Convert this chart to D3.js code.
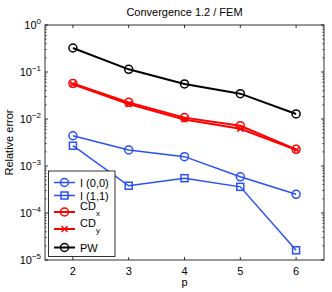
<!DOCTYPE html>
<html>
<head>
<meta charset="utf-8">
<script src="https://cdn.jsdelivr.net/npm/d3@7"></script>
<style>
  body { margin: 0; background: #fff; }
  svg { font-family: "Liberation Sans", Arial, sans-serif; }
</style>
</head>
<body>
<div id="chart"></div>
<script>
// values
var ps = [2, 3, 4, 5, 6];
var i00 = [0.0044, 0.0022, 0.00158, 0.00059, 0.00025];
var i11 = [0.0027, 0.00038, 0.00055, 0.00036, 0.0000161];
var cdx = [0.057, 0.0226, 0.0107, 0.0072, 0.00226];
var cdy = [0.055, 0.0209, 0.0098, 0.0062, 0.0022];
var pw = [0.324, 0.114, 0.0556, 0.0346, 0.0128];
var xTicks = [2, 3, 4, 5, 6];
var yTicks = [-5, -4, -3, -2, -1, 0];

var blue = "#2850f5", red = "#ff0000", black = "#000000";
var series = [
  { name: "I (0,0)", vals: i00, color: blue, w: 1.5, marker: "circle" },
  { name: "I (1,1)", vals: i11, color: blue, w: 1.5, marker: "square" },
  { name: "CD", sub: "x", vals: cdx, color: red, w: 2, marker: "circle" },
  { name: "CD", sub: "y", vals: cdy, color: red, w: 2, marker: "star" },
  { name: "PW", vals: pw, color: black, w: 2, marker: "circle" }
];

const width = 332, height = 292;
const m = { left: 45, right: 324, top: 25, bottom: 260 };

const svg = d3.select('#chart').append('svg')
  .attr('width', width).attr('height', height);

const x = d3.scaleLinear().domain([1.5, 6.5]).range([m.left, m.right]);
const y = d3.scaleLog().domain([1e-5, 1]).range([m.bottom, m.top]);

// box
svg.append('rect')
  .attr('x', m.left).attr('y', m.top)
  .attr('width', m.right - m.left).attr('height', m.bottom - m.top)
  .attr('fill', 'none').attr('stroke', '#000').attr('stroke-width', 0.8);

// x ticks (inside, top and bottom)
xTicks.forEach(function (t) {
  svg.append('line').attr('x1', x(t)).attr('x2', x(t))
    .attr('y1', m.bottom).attr('y2', m.bottom - 3).attr('stroke', '#000').attr('stroke-width', 0.8);
  svg.append('line').attr('x1', x(t)).attr('x2', x(t))
    .attr('y1', m.top).attr('y2', m.top + 3).attr('stroke', '#000').attr('stroke-width', 0.8);
  svg.append('text').attr('x', x(t)).attr('y', m.bottom + 15)
    .attr('text-anchor', 'middle').attr('font-size', 11).text(t);
});

// y ticks, major and minor
yTicks.forEach(function (e) {
  var v = Math.pow(10, e);
  [m.left, m.right].forEach(function (xx, k) {
    var d = k === 0 ? 3 : -3;
    svg.append('line').attr('x1', xx).attr('x2', xx + d)
      .attr('y1', y(v)).attr('y2', y(v)).attr('stroke', '#000').attr('stroke-width', 0.8);
  });
  var lab = svg.append('text').attr('x', m.left - 4).attr('y', y(v) + 4)
    .attr('text-anchor', 'end').attr('font-size', 11);
  lab.append('tspan').text('10');
  lab.append('tspan').attr('dy', -5).attr('font-size', 8).text(e === 0 ? '0' : '\u2212' + (-e));
  if (e < 0) {
    for (var k = 2; k <= 9; k++) {
      var mv = k * v;
      [m.left, m.right].forEach(function (xx, j) {
        var d = j === 0 ? 1.6 : -1.6;
        svg.append('line').attr('x1', xx).attr('x2', xx + d)
          .attr('y1', y(mv)).attr('y2', y(mv)).attr('stroke', '#000').attr('stroke-width', 0.7);
      });
    }
  }
});

// title and axis labels
svg.append('text').attr('x', (m.left + m.right) / 2).attr('y', 16)
  .attr('text-anchor', 'middle').attr('font-size', 11).text('Convergence 1.2 / FEM');
svg.append('text').attr('x', (m.left + m.right) / 2).attr('y', 286)
  .attr('text-anchor', 'middle').attr('font-size', 11).text('p');
svg.append('text').attr('transform', 'translate(13,' + ((m.top + m.bottom) / 2) + ') rotate(-90)')
  .attr('text-anchor', 'middle').attr('font-size', 11).text('Relative error');

function drawMarker(g, kind, cx, cy, color) {
  if (kind === 'circle') {
    g.append('circle').attr('cx', cx).attr('cy', cy).attr('r', 4)
      .attr('fill', 'none').attr('stroke', color).attr('stroke-width', 1.5);
  } else if (kind === 'square') {
    g.append('rect').attr('x', cx - 3.5).attr('y', cy - 3.5).attr('width', 7).attr('height', 7)
      .attr('fill', 'none').attr('stroke', color).attr('stroke-width', 1.5);
  } else {
    var r = 3;
    g.append('path')
      .attr('d', 'M' + (cx - r) + ',' + (cy - r) + 'L' + (cx + r) + ',' + (cy + r) +
        'M' + (cx - r) + ',' + (cy + r) + 'L' + (cx + r) + ',' + (cy - r) +
        'M' + (cx - r) + ',' + cy + 'L' + (cx + r) + ',' + cy)
      .attr('stroke', color).attr('stroke-width', 1.3);
  }
}

const line = d3.line().x(function (d, i) { return x(ps[i]); }).y(function (d) { return y(d); });

series.forEach(function (s) {
  var g = svg.append('g');
  g.append('path').attr('d', line(s.vals)).attr('fill', 'none')
    .attr('stroke', s.color).attr('stroke-width', s.w);
  s.vals.forEach(function (v, i) { drawMarker(g, s.marker, x(ps[i]), y(v), s.color); });
});

// legend
const lg = svg.append('g');
lg.append('rect').attr('x', 48.5).attr('y', 171).attr('width', 66.5).attr('height', 85.5)
  .attr('fill', '#fff').attr('stroke', '#000').attr('stroke-width', 0.8);
var legY = [182.5, 195.5, 212, 229, 247.5];
series.forEach(function (s, i) {
  var yy = legY[i];
  lg.append('line').attr('x1', 54).attr('x2', 75).attr('y1', yy).attr('y2', yy)
    .attr('stroke', s.color).attr('stroke-width', s.w);
  drawMarker(lg, s.marker, 64.5, yy, s.color);
  var t = lg.append('text').attr('x', 80).attr('y', s.sub ? yy - 2 : yy + 4).attr('font-size', 11);
  t.append('tspan').text(s.name);
  if (s.sub) t.append('tspan').attr('dy', 6).attr('font-size', 8).text(s.sub);
});
</script>
</body>
</html>
